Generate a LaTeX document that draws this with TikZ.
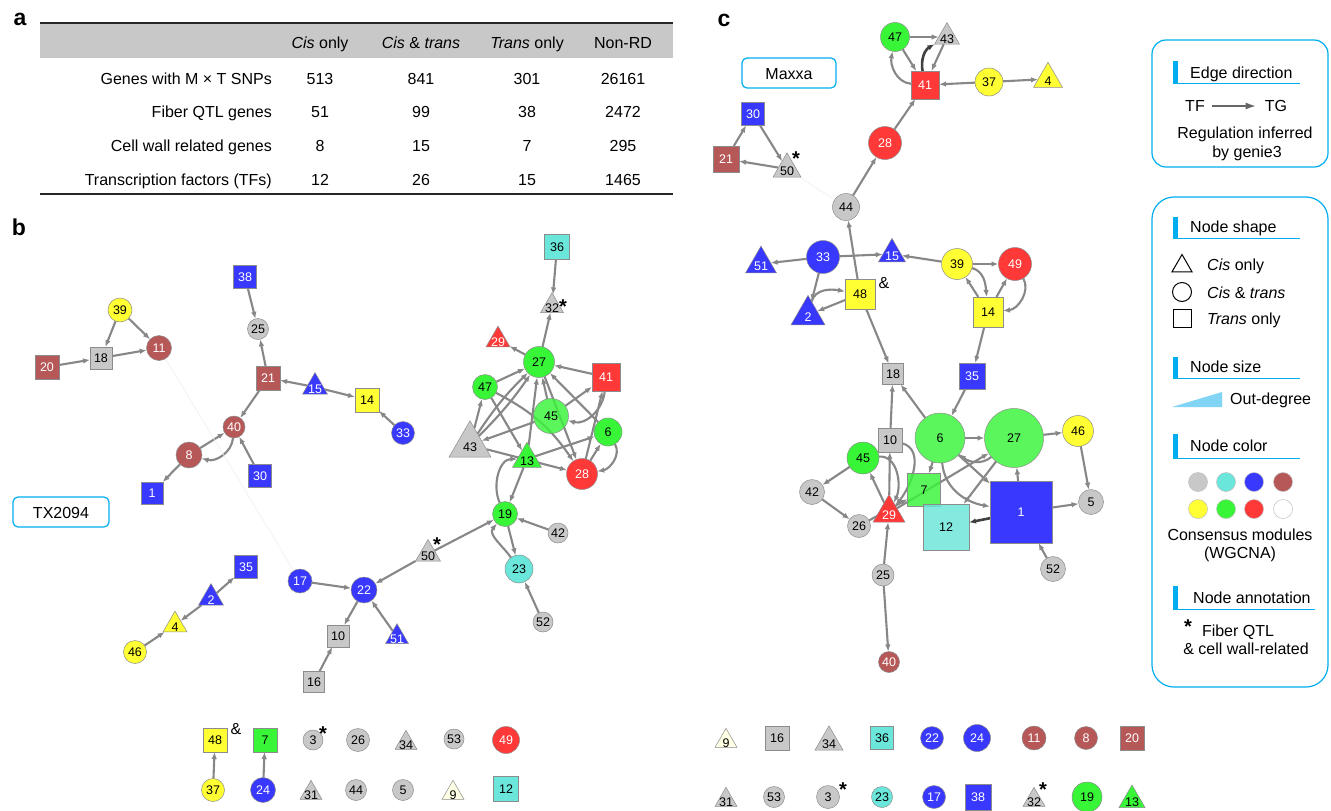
\documentclass[tikz,border=0pt]{standalone}
\usepackage{fontspec}
\setmainfont{Liberation Sans}
\usetikzlibrary{arrows.meta,shapes.geometric}
\pgfdeclarelayer{back}
\pgfdeclarelayer{bg}
\pgfsetlayers{back,bg,main}
\definecolor{mGray}{RGB}{200,200,200}
\definecolor{mCyan}{RGB}{106,230,218}
\definecolor{mBlue}{RGB}{56,56,255}
\definecolor{mBrown}{RGB}{183,88,88}
\definecolor{mYellow}{RGB}{255,255,51}
\definecolor{mGreen}{RGB}{56,245,56}
\definecolor{mRed}{RGB}{255,56,56}
\definecolor{mIvory}{RGB}{255,255,230}
\definecolor{lBlue}{RGB}{0,174,239}
\definecolor{edgeC}{RGB}{135,135,135}
\definecolor{wedgeC}{RGB}{130,212,245}
\definecolor{hdrC}{RGB}{200,200,200}
\newcommand{\nlab}[1]{\raisebox{-4.5pt}[0pt][0pt]{\makebox[0pt]{#1}}}
\newcommand{\tlab}[1]{\raisebox{-6.5pt}[0pt][0pt]{\makebox[0pt]{#1}}}
\tikzset{
  nd/.style={draw=black!45,line width=0.5pt,inner sep=0pt,outer sep=0pt,font=\fontsize{12.5}{12.5}\selectfont},
  ci/.style={nd,circle,minimum size=#1},
  sq/.style={nd,rectangle,minimum size=#1},
  tri/.style={nd,regular polygon,regular polygon sides=3,minimum size=1.1547*#1},
  nGray/.style={fill=mGray,text=black},
  nCyan/.style={fill=mCyan,text=black},
  nBlue/.style={fill=mBlue,text=white},
  nBrown/.style={fill=mBrown,text=white},
  nYellow/.style={fill=mYellow,text=black},
  nGreen/.style={fill=mGreen,text=black},
  nRed/.style={fill=mRed,text=white},
  nIvory/.style={fill=mIvory,text=black},
  see/.style={fill opacity=0.82,text opacity=1},
  edge/.style={draw=edgeC,line width=2.1pt,-{Latex[length=7pt,width=5.5pt]}},
  edgedark/.style={draw=black!75,line width=2.6pt,-{Latex[length=7pt,width=5.5pt]}},
  faint/.style={draw=black!6,line width=0.6pt},
  tbl/.style={font=\fontsize{16}{18}\selectfont,inner sep=0pt},
  leg/.style={font=\fontsize{16}{18}\selectfont,inner sep=0pt},
  plab/.style={font=\fontsize{23}{23}\selectfont\bfseries,inner sep=0pt,anchor=base},
  astk/.style={font=\fontsize{20}{20}\selectfont\bfseries,inner sep=0pt,anchor=base},
  amp/.style={font=\fontsize{16}{16}\selectfont,inner sep=0pt,anchor=base},
  lbox/.style={draw=lBlue,line width=1.2pt,rounded corners=5pt},
  lshape/.style={draw=black,line width=1pt,inner sep=0pt,fill=white},
}
\begin{document}
\begin{tikzpicture}[x=1pt,y=-1pt]
\useasboundingbox (0,0) rectangle (1331,811);
\begin{pgfonlayer}{back}
\fill[white] (0,0) rectangle (1331,811);
\end{pgfonlayer}

% ---------------- panel a : table
\node[plab] (pa) at (20,25) {a};
\fill[hdrC] (40,23) rectangle (673,58);
\draw[line width=1.3pt,black!85] (40,23) -- (673,23);
\draw[line width=1.3pt,black!85] (40,194) -- (673,194);
\node[tbl,anchor=base] (h1) at (320,48) {\textit{Cis} only};
\node[tbl,anchor=base] (h2) at (421,48) {\textit{Cis} \& \textit{trans}};
\node[tbl,anchor=base] (h3) at (527,48) {\textit{Trans} only};
\node[tbl,anchor=base] (h4) at (623,48) {Non-RD};
\node[tbl,anchor=base east] (r1) at (272,84) {Genes with M × T SNPs};
\node[tbl,anchor=base east] (r2) at (272,117) {Fiber QTL genes};
\node[tbl,anchor=base east] (r3) at (272,151) {Cell wall related genes};
\node[tbl,anchor=base east] (r4) at (272,185) {Transcription factors (TFs)};
\node[tbl,anchor=base] (v11) at (320,84) {513};
\node[tbl,anchor=base] (v12) at (421,84) {841};
\node[tbl,anchor=base] (v13) at (527,84) {301};
\node[tbl,anchor=base] (v14) at (623,84) {26161};
\node[tbl,anchor=base] (v21) at (320,117) {51};
\node[tbl,anchor=base] (v22) at (421,117) {99};
\node[tbl,anchor=base] (v23) at (527,117) {38};
\node[tbl,anchor=base] (v24) at (623,117) {2472};
\node[tbl,anchor=base] (v31) at (320,151) {8};
\node[tbl,anchor=base] (v32) at (421,151) {15};
\node[tbl,anchor=base] (v33) at (527,151) {7};
\node[tbl,anchor=base] (v34) at (623,151) {295};
\node[tbl,anchor=base] (v41) at (320,185) {12};
\node[tbl,anchor=base] (v42) at (421,185) {26};
\node[tbl,anchor=base] (v43) at (527,185) {15};
\node[tbl,anchor=base] (v44) at (623,185) {1465};

% ---------------- panel b
\node[plab] (pb) at (19,235) {b};
\draw[lbox] (13,497) rectangle (109,527);
\node[leg,anchor=base] (tx) at (61,518) {TX2094};

\node[sq=23,nBlue] (b38) at (245,277) {\nlab{38}};
\node[ci=24,nYellow] (b39) at (120,310) {\nlab{39}};
\node[ci=21,nGray] (b25) at (258,329) {\nlab{25}};
\node[ci=25,nBrown] (b11) at (159,348) {\nlab{11}};
\node[sq=22,nGray] (b18) at (101,358) {\nlab{18}};
\node[sq=24,nBrown] (b20) at (47,367) {\nlab{20}};
\node[sq=24,nBrown] (b21) at (268,378) {\nlab{21}};
\node[tri=25,nBlue] (b15) at (315,387) {\tlab{15}};
\node[sq=24,nYellow] (b14) at (367,400) {\nlab{14}};
\node[ci=23,nBlue] (b33) at (403,433) {\nlab{33}};
\node[ci=22,nBrown] (b40) at (234,427) {\nlab{40}};
\node[ci=26,nBrown] (b8) at (189,455) {\nlab{8}};
\node[sq=23,nBlue] (b30) at (260,476) {\nlab{30}};
\node[sq=22,nBlue] (b1) at (152,493) {\nlab{1}};

\node[sq=25,nCyan] (b36) at (557,247) {\nlab{36}};
\node[tri=23,nGray] (b32) at (552,306) {\tlab{32}};
\node[tri=24,nRed] (b29) at (498,340) {\tlab{29}};
\node[ci=31,nGreen] (b27) at (539,362) {\nlab{27}};
\node[sq=28,nRed] (b41) at (606,377) {\nlab{41}};
\node[ci=25,nGreen] (b47) at (485,387) {\nlab{47}};
\node[ci=35,nGreen,see] (b45) at (551,416) {\nlab{45}};
\node[ci=28,nGreen] (b6) at (608,432) {\nlab{6}};
\node[tri=42,nGray] (b43) at (470,445) {\tlab{43}};
\node[tri=29,nGreen] (b13) at (527,459) {\tlab{13}};
\node[ci=31,nRed] (b28) at (582,474) {\nlab{28}};
\node[ci=25,nGreen] (b19) at (505,514) {\nlab{19}};
\node[ci=20,nGray] (b42) at (558,533) {\nlab{42}};
\node[tri=25,nGray] (b50) at (428,554) {\tlab{50}};
\node[ci=28,nCyan] (b23) at (519,569) {\nlab{23}};
\node[sq=23,nBlue] (b35) at (246,567) {\nlab{35}};
\node[ci=24,nBlue] (b17) at (300,581) {\nlab{17}};
\node[ci=26,nBlue] (b22) at (364,590) {\nlab{22}};
\node[tri=25,nBlue] (b2) at (211,598) {\tlab{2}};
\node[tri=24,nYellow] (b4) at (175,625) {\tlab{4}};
\node[ci=20,nGray] (b52) at (543,622) {\nlab{52}};
\node[sq=22,nGray] (b10) at (338,636) {\nlab{10}};
\node[tri=23,nBlue] (b51) at (397,637) {\tlab{51}};
\node[ci=23,nYellow] (b46) at (135,652) {\nlab{46}};
\node[sq=21,nGray] (b16) at (314,682) {\nlab{16}};

\node[sq=24,nYellow] (b48) at (215,740) {\nlab{48}};
\node[sq=24,nGreen] (b7) at (265,740) {\nlab{7}};
\node[ci=20,nGray] (b3) at (313,740) {\nlab{3}};
\node[ci=23,nGray] (b26) at (358,740) {\nlab{26}};
\node[tri=22,nGray] (b34) at (406,743) {\tlab{34}};
\node[ci=20,nGray] (b53) at (454,739) {\nlab{53}};
\node[ci=27,nRed] (b49) at (506,740) {\nlab{49}};
\node[ci=23,nYellow] (b37) at (213,790) {\nlab{37}};
\node[ci=25,nBlue] (b24) at (263,790) {\nlab{24}};
\node[tri=22,nGray] (b31) at (311,793) {\tlab{31}};
\node[ci=21,nGray] (b44) at (356,790) {\nlab{44}};
\node[ci=21,nGray] (b5) at (403,790) {\nlab{5}};
\node[tri=22,nIvory] (b9) at (453,793) {\tlab{9}};
\node[sq=25,nCyan] (b12) at (506,789) {\nlab{12}};

\node[astk] (sb32) at (563,313) {*};
\node[astk] (sb50) at (437,551) {*};
\node[astk] (sb3) at (323,740) {*};
\node[amp] (ab48) at (236,734) {\&};

% ---------------- panel c
\node[plab] (pc) at (724,26) {c};
\draw[lbox] (742,58) rectangle (836,88);
\node[leg,anchor=base] (mx) at (789,79) {Maxxa};

\node[ci=29,nGreen] (c47) at (895,37) {\nlab{47}};
\node[tri=25,nGray] (c43) at (947,37) {\tlab{43}};
\node[sq=28,nRed] (c41) at (925,85) {\nlab{41}};
\node[ci=28,nYellow] (c37) at (989,82) {\nlab{37}};
\node[tri=29,nYellow] (c4) at (1048,79) {\tlab{4}};
\node[sq=23,nBlue] (c30) at (753,114) {\nlab{30}};
\node[sq=26,nBrown] (c21) at (726,159) {\nlab{21}};
\node[tri=28,nGray] (c50) at (787,169) {\tlab{50}};
\node[ci=33,nRed] (c28) at (885,143) {\nlab{28}};
\node[ci=27,nGray] (c44) at (846,207) {\nlab{44}};
\node[tri=31,nBlue] (c51) at (761,264) {\tlab{51}};
\node[ci=33,nBlue] (c33) at (823,257) {\nlab{33}};
\node[tri=27,nBlue] (c15) at (892,254) {\tlab{15}};
\node[ci=31,nYellow] (c39) at (957,264) {\nlab{39}};
\node[ci=33,nRed] (c49) at (1015,264) {\nlab{49}};
\node[sq=30,nYellow] (c48) at (860,294) {\nlab{48}};
\node[tri=34,nBlue] (c2) at (808,315) {\tlab{2}};
\node[sq=30,nYellow] (c14) at (988,312) {\nlab{14}};
\node[sq=21,nGray] (c18) at (893,374) {\nlab{18}};
\node[sq=26,nBlue] (c35) at (972,376) {\nlab{35}};
\node[sq=24,nGray] (c10) at (890,440) {\nlab{10}};
\node[ci=50,nGreen,see] (c6) at (940,438) {\nlab{6}};
\node[ci=59,nGreen,see] (c27) at (1014,438) {\nlab{27}};
\node[ci=31,nYellow] (c46) at (1078,431) {\nlab{46}};
\node[ci=32,nGreen] (c45) at (863,458) {\nlab{45}};
\node[ci=25,nGray] (c42) at (812,492) {\nlab{42}};
\node[sq=33,nGreen,see] (c7) at (924,490) {\nlab{7}};
\node[tri=32,nRed] (c29) at (889,513) {\tlab{29}};
\node[ci=23,nGray] (c26) at (859,526) {\nlab{26}};
\node[sq=46,nCyan,see] (c12) at (946,527) {\nlab{12}};
\node[sq=62,nBlue] (c1) at (1021,512) {\nlab{1}};
\node[ci=25,nGray] (c5) at (1091,502) {\nlab{5}};
\node[ci=25,nGray] (c52) at (1053,569) {\nlab{52}};
\node[ci=22,nGray] (c25) at (883,575) {\nlab{25}};
\node[ci=21,nBrown] (c40) at (889,662) {\nlab{40}};

\node[tri=22,nIvory] (c9) at (726,741) {\tlab{9}};
\node[sq=24,nGray] (c16) at (777,738) {\nlab{16}};
\node[tri=28,nGray] (c34) at (829,742) {\tlab{34}};
\node[sq=23,nCyan] (c36) at (882,738) {\nlab{36}};
\node[ci=23,nBlue] (c22) at (932,738) {\nlab{22}};
\node[ci=27,nBlue] (c24) at (977,738) {\nlab{24}};
\node[ci=24,nBrown] (c11) at (1034,738) {\nlab{11}};
\node[ci=23,nBrown] (c8) at (1086,738) {\nlab{8}};
\node[sq=24,nBrown] (c20) at (1132,738) {\nlab{20}};
\node[tri=22,nGray] (c31) at (726,800) {\tlab{31}};
\node[ci=21,nGray] (c53) at (774,797) {\nlab{53}};
\node[ci=23,nGray] (c3) at (828,797) {\nlab{3}};
\node[ci=21,nCyan] (c23) at (882,797) {\nlab{23}};
\node[ci=23,nBlue] (c17) at (934,797) {\nlab{17}};
\node[sq=26,nBlue] (c38) at (978,797) {\nlab{38}};
\node[tri=22,nGray] (c32) at (1034,800) {\tlab{32}};
\node[ci=30,nGreen] (c19) at (1087,797) {\nlab{19}};
\node[tri=26,nGreen] (c13) at (1132,800) {\tlab{13}};

\node[astk] (sc50) at (796,165) {*};
\node[astk] (sc3) at (843,796) {*};
\node[astk] (sc32) at (1043,796) {*};
\node[amp] (ac48) at (884,288) {\&};

% ---------------- edges
\begin{pgfonlayer}{bg}
\draw[edge] (b39) -- (b18);
\draw[edge] (b39) -- (b11);
\draw[edge] (b20) -- (b18);
\draw[edge] (b18) -- (b11);
\draw[edge] (b38) -- (b25);
\draw[edge] (b21) -- (b25);
\draw[edge] (b21) -- (b40);
\draw[edge] (b15) -- (b21);
\draw[edge] (b15) -- (b14);
\draw[edge] (b33) -- (b14);
\draw[edge] (b8) -- (b40);
\draw[edge] (b40) to[out=-95,in=-15] (b8);
\draw[edge] (b30) -- (b40);
\draw[edge] (b8) -- (b1);
\draw[faint] (b11) -- (b17);

\draw[edge] (b36) -- (b32);
\draw[edge] (b27) -- (b32);
\draw[edge] (b27) -- (b29);
\draw[edge] (b41) -- (b27);
\draw[edge] (b47) -- (b27);
\draw[edge] (b43) -- (b47);
\draw[edge] (b43) to[bend left=6] (b27);
\draw[edge] (b43) to[bend right=5] (b27);
\draw[edge] (b13) -- (b27);
\draw[edge] (b45) -- (b41);
\draw[edge] (b45) -- (b43);
\draw[edge] (b47) to[bend left=14] (b28);
\draw[edge] (b47) -- (b13);
\draw[edge] (b43) -- (b28);
\draw[edge] (b27) -- (b28);
\draw[edge] (b45) -- (b27);
\draw[edge] (b6) -- (b27);
\draw[edge] (b41) to[out=-95,in=-15] (b45);
\draw[edge] (b28) -- (b41);
\draw[edge] (b28) -- (b6);
\draw[edge] (b6) to[out=-60,in=10] (b28);
\draw[edge] (b13) -- (b6);
\draw[edge] (b13) -- (b19);
\draw[edge] (b19) to[out=115,in=180] (b13);

\draw[edge] (b50) -- (b19);
\draw[edge] (b50) -- (b22);
\draw[edge] (b42) -- (b19);
\draw[edge] (b19) -- (b23);
\draw[edge] (b23) to[out=125,in=-130] (b19);
\draw[edge] (b52) -- (b23);
\draw[edge] (b17) -- (b22);
\draw[edge] (b22) -- (b10);
\draw[edge] (b51) -- (b22);
\draw[edge] (b16) -- (b10);
\draw[edge] (b2) -- (b35);
\draw[edge] (b2) -- (b4);
\draw[edge] (b46) -- (b4);
\draw[edge] (b37) -- (b48);
\draw[edge] (b24) -- (b7);

\draw[edge] (c47) -- (c43);
\draw[edgedark] (c41) to[out=100,in=-150] (c43);
\draw[edge] (c43) -- (c41);
\draw[edge] (c47) -- (c41);
\draw[edge] (c41) to[out=175,in=-100] (c47);
\draw[edge] (c37) -- (c41);
\draw[edge] (c37) -- (c4);
\draw[edge] (c28) -- (c41);
\draw[edge] (c44) -- (c28);
\draw[edge] (c50) -- (c21);
\draw[edge] (c21) -- (c30);
\draw[edge] (c30) -- (c50);
\draw[faint] (c50) -- (c44);
\draw[edge] (c48) -- (c44);
\draw[edge] (c33) -- (c51);
\draw[edge] (c33) -- (c15);
\draw[edge] (c39) -- (c15);
\draw[edge] (c33) -- (c2);
\draw[edge] (c2) to[out=75,in=170] (c48);
\draw[edge] (c48) -- (c2);
\draw[edge] (c39) -- (c49);
\draw[edge] (c39) to[out=-15,in=95] (c14);
\draw[edge] (c14) -- (c39);
\draw[edge] (c14) -- (c49);
\draw[edge] (c49) to[out=-60,in=5] (c14);
\draw[edge] (c14) -- (c35);
\draw[edge] (c48) -- (c18);
\draw[edge] (c35) -- (c6);
\draw[edge] (c10) -- (c18);
\draw[edge] (c6) -- (c18);
\draw[edge] (c6) -- (c27);
\draw[edge] (c27) -- (c46);
\draw[edge] (c46) -- (c5);
\draw[edge] (c1) -- (c5);
\draw[edge] (c52) -- (c1);
\draw[edge] (c1) -- (c27);
\draw[edgedark] (c1) -- (c12);
\draw[edge] (c6) -- (c1);
\draw[edge] (c27) -- (c12);
\draw[edge] (c29) -- (c27);
\draw[edge] (c6) -- (c7);
\draw[edge] (c27) to[out=-140,in=-40] (c6);
\draw[edge] (c6) to[out=-85,in=170] (c1);
\draw[edge] (c45) -- (c42);
\draw[edge] (c42) -- (c26);
\draw[edge] (c29) -- (c45);
\draw[edge] (c45) to[out=5,in=65] (c29);
\draw[edge] (c29) -- (c10);
\draw[edge] (c10) to[out=-15,in=50] (c29);
\draw[edge] (c25) -- (c29);
\draw[edge] (c25) -- (c40);
\draw[edge] (c26) -- (c7);
\end{pgfonlayer}

% ---------------- legend
\draw[lbox,rounded corners=14pt] (1152,40) rectangle (1328,167);
\fill[lBlue] (1173,61) rectangle (1178,83);
\draw[lBlue,line width=0.8pt] (1173,83) -- (1300,83);
\node[leg,anchor=base west] (l1) at (1190,78) {Edge direction};
\node[leg,anchor=base] (lTF) at (1195,111) {TF};
\node[leg,anchor=base] (lTG) at (1276,111) {TG};
\draw[draw=black!60,line width=2.4pt,-{Latex[length=11pt,width=7pt]},shorten <=7pt,shorten >=8pt] (lTF.east |- 0,106) -- (lTG.west |- 0,106);
\node[leg,anchor=base] (l2) at (1245,138) {Regulation inferred};
\node[leg,anchor=base] (l3) at (1247,157) {by genie3};

\draw[lbox,rounded corners=22pt] (1152,197) rectangle (1328,687);
\fill[lBlue] (1173,217) rectangle (1178,238);
\draw[lBlue,line width=0.8pt] (1173,238) -- (1300,238);
\node[leg,anchor=base west] (l4) at (1190,232) {Node shape};
\node[lshape,regular polygon,regular polygon sides=3,minimum size=23] (lt) at (1182,266) {};
\node[leg,anchor=base west] (l5) at (1207,270) {\textit{Cis} only};
\node[lshape,circle,minimum size=19] (lc) at (1182,292) {};
\node[leg,anchor=base west] (l6) at (1207,298) {\textit{Cis} \& \textit{trans}};
\node[lshape,rectangle,minimum size=18] (ls) at (1182,318) {};
\node[leg,anchor=base west] (l7) at (1207,324) {\textit{Trans} only};

\fill[lBlue] (1173,357) rectangle (1178,378);
\draw[lBlue,line width=0.8pt] (1173,378) -- (1300,378);
\node[leg,anchor=base west] (l8) at (1190,372) {Node size};
\fill[wedgeC] (1172,407) -- (1222,392) -- (1222,407) -- cycle;
\node[leg,anchor=base west] (l9) at (1230,404) {Out-degree};

\fill[lBlue] (1173,434) rectangle (1178,458);
\draw[lBlue,line width=0.8pt] (1173,458) -- (1300,458);
\node[leg,anchor=base west] (l10) at (1190,451) {Node color};
\node[ci=19,nGray,draw=black!25] (k1) at (1198,482) {};
\node[ci=19,nCyan,draw=black!25] (k2) at (1226,482) {};
\node[ci=19,nBlue,draw=black!25] (k3) at (1254,482) {};
\node[ci=19,nBrown,draw=black!25] (k4) at (1283,482) {};
\node[ci=19,nYellow,draw=black!25] (k5) at (1198,509) {};
\node[ci=19,nGreen,draw=black!25] (k6) at (1226,509) {};
\node[ci=19,nRed,draw=black!25] (k7) at (1254,509) {};
\node[ci=19,fill=white,draw=black!25] (k8) at (1283,509) {};
\node[leg,anchor=base] (l11) at (1240,540) {Consensus modules};
\node[leg,anchor=base] (l12) at (1240,558) {(WGCNA)};

\fill[lBlue] (1173,586) rectangle (1178,609);
\draw[lBlue,line width=0.8pt] (1173,609) -- (1315,609);
\node[leg,anchor=base west] (l13) at (1193,603) {Node annotation};
\node[astk] (l14) at (1188,633) {*};
\node[leg,anchor=base] (l15) at (1238,636) {Fiber QTL};
\node[leg,anchor=base] (l16) at (1246,654) {\& cell wall-related};
\end{tikzpicture}
\end{document}
